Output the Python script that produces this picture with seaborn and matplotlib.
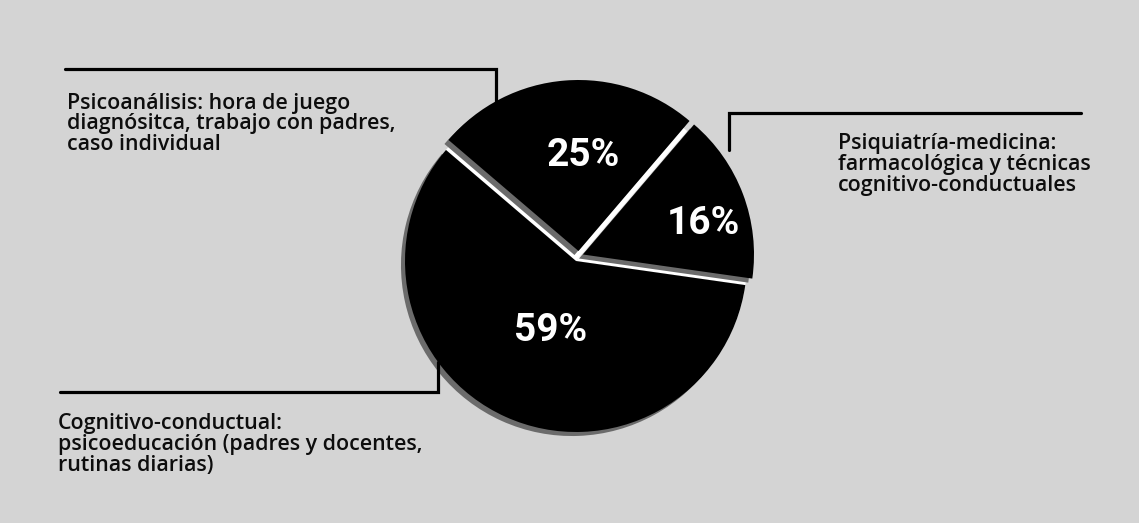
import numpy as np
import matplotlib
matplotlib.use("Agg")
import matplotlib.pyplot as plt
import seaborn as sns

# Share of treatment approaches (percent)
shares = [25, 16, 59]
pct_labels = ["25%", "16%", "59%"]
descriptions = [
    "Psicoanálisis: hora de juego\ndiagnósitca, trabajo con padres,\ncaso individual",
    "Psiquiatría-medicina:\nfarmacológica y técnicas\ncognitivo-conductuales",
    "Cognitivo-conductual:\npsicoeducación (padres y docentes,\nrutinas diarias)",
]

sns.set_theme(style="white")
plt.rcParams["font.family"] = ["Roboto", "DejaVu Sans"]

W, H = 1139, 523
BG = "#d4d4d4"
fig = plt.figure(figsize=(W / 100, H / 100), dpi=100)
fig.patch.set_facecolor(BG)
ax = fig.add_axes([0, 0, 1, 1])
ax.set_facecolor(BG)

cx, cy, r = 576, 262, 171
start = 139.5

# pull-out offset of each slice (x, y in px) and label placement
slice_shift = [(2.5, 10.0), (7.0, 6.5), (0.0, 0.0)]
label_dist = [0.56, 0.725, 0.43]
label_turn = [-7.5, -6.0, 4.3]

# light underlay that shows through the gaps between slices
ax.pie(shares, startangle=start, counterclock=False, colors=["white"] * 3,
       radius=r, center=(cx, cy), frame=True,
       wedgeprops=dict(linewidth=0, zorder=0.5))

wedges, _ = ax.pie(
    shares,
    startangle=start,
    counterclock=False,
    colors=["black"] * len(shares),
    radius=r,
    center=(cx, cy),
    frame=True,
    wedgeprops=dict(linewidth=0),
    shadow={"ox": -2.9, "oy": -2.9, "facecolor": "0.42",
            "edgecolor": "0.42", "alpha": 1},
)
for w, (dx, dy) in zip(wedges, slice_shift):
    x0, y0 = w.center
    w.set_center((x0 + dx, y0 + dy))

# percentage labels inside slices
for w, lab, d, turn in zip(wedges, pct_labels, label_dist, label_turn):
    x0, y0 = w.center
    t = np.deg2rad((w.theta1 + w.theta2) / 2 + turn)
    ax.text(x0 + d * w.r * np.cos(t), y0 + d * w.r * np.sin(t), lab,
            color="white", fontsize=28, fontweight="bold",
            ha="center", va="center", zorder=4)

ax.set_xlim(0, W)
ax.set_ylim(0, H)
ax.set_aspect("equal")
ax.axis("off")

def py(y):
    return H - y

# leader lines
line_kw = dict(color="black", lw=2.3, solid_joinstyle="miter", zorder=2)
ax.plot([65, 496, 496], [py(69), py(69), py(104)], **line_kw)
ax.plot([1081, 729, 729], [py(113), py(113), py(150)], **line_kw)
ax.plot([60, 438, 438], [py(392), py(392), py(362)], **line_kw)

text_kw = dict(fontsize=15.4, fontweight="semibold", color="#0d0d0d",
               ha="left", va="center", linespacing=0.97,
               family=["Open Sans", "DejaVu Sans"])
ax.text(67, py(124), descriptions[0], **text_kw)
ax.text(838, py(164.5), descriptions[1], **text_kw)
ax.text(58, py(444.5), descriptions[2], **text_kw)

fig.savefig("out.png", dpi=100, facecolor=BG)
